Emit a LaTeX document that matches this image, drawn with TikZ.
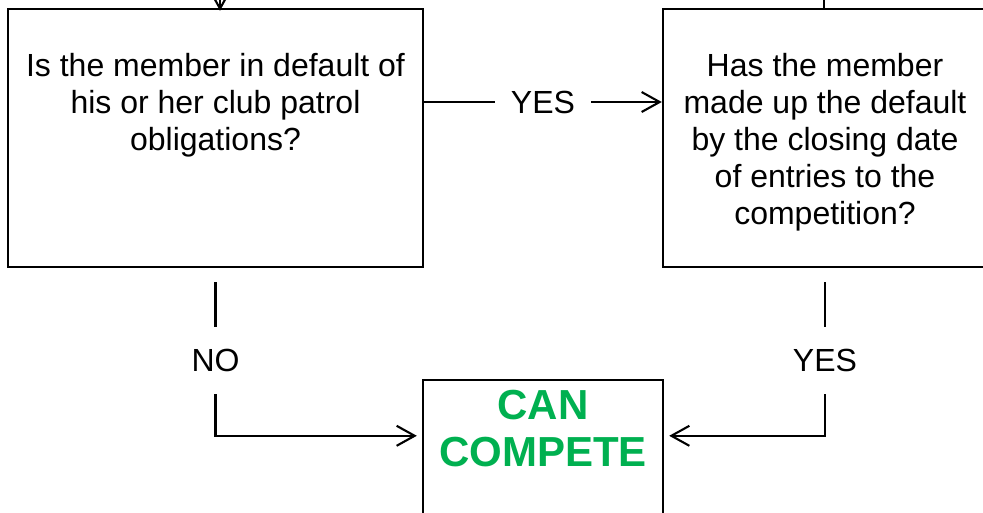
\documentclass[tikz,border=0pt]{standalone}
\usepackage{fontspec}
\setmainfont{Liberation Sans}
\usetikzlibrary{arrows.meta}
\definecolor{okgreen}{HTML}{00B050}
\begin{document}
\begin{tikzpicture}[x=1pt,y=-1pt,
  box/.style={draw=black, line width=2.4pt, rectangle, inner sep=0pt},
  qtext/.style={font=\fontsize{32}{37}\selectfont, align=center, inner sep=0pt, anchor=north},
  gtext/.style={font=\fontsize{42}{47}\selectfont\bfseries, text=okgreen, align=center, inner sep=0pt, anchor=north},
  plain/.style={line width=2.1pt},
  conn/.style={line width=2.1pt, -{Straight Barb[length=18pt,width=20pt]}},
  lbl/.style={font=\fontsize{32}{37}\selectfont, fill=white, inner xsep=16pt, inner ysep=22pt}
]
\useasboundingbox (0,0) rectangle (983,512);
\clip (0,0) rectangle (983,512);

% boxes
\node[box, minimum width=415pt, minimum height=258pt] (L) at (215.5,138) {};
\node[box, minimum width=324pt, minimum height=258pt] (R) at (825,138) {};
\node[box, minimum width=240pt, minimum height=180pt] (C) at (543,470) {};

% texts
\node[qtext] (Lt) at (215.5,53.5) {Is the member in default of\\his or her club patrol\\obligations?};
\node[qtext] (Rt) at (825,53.5) {Has the member\\made up the default\\by the closing date\\of entries to the\\competition?};
\node[gtext] (Ct) at (543,390) {CAN\\COMPETE};

% incoming lines from above
\coordinate (inL) at (220,-40);
\coordinate (inR) at (824,-40);
\draw[conn] (inL) -- ([yshift=-3pt]inL |- L.north);
\draw[plain] (inR) -- (inR |- R.north);

% connectors
\draw[conn] ([yshift=36pt]L.east) -- node[lbl, inner ysep=4pt] (y1) {YES} ([yshift=36pt]R.west);
\draw[conn, shorten >=5pt] ([yshift=-14pt]L.south) |- node[lbl, pos=0.255] (no) {NO} ([yshift=-57pt]C.north west);
\draw[conn, shorten >=5pt] ([yshift=-14pt]R.south) |- node[lbl, pos=0.255] (y2) {YES} ([yshift=-57pt]C.north east);
\end{tikzpicture}
\end{document}
